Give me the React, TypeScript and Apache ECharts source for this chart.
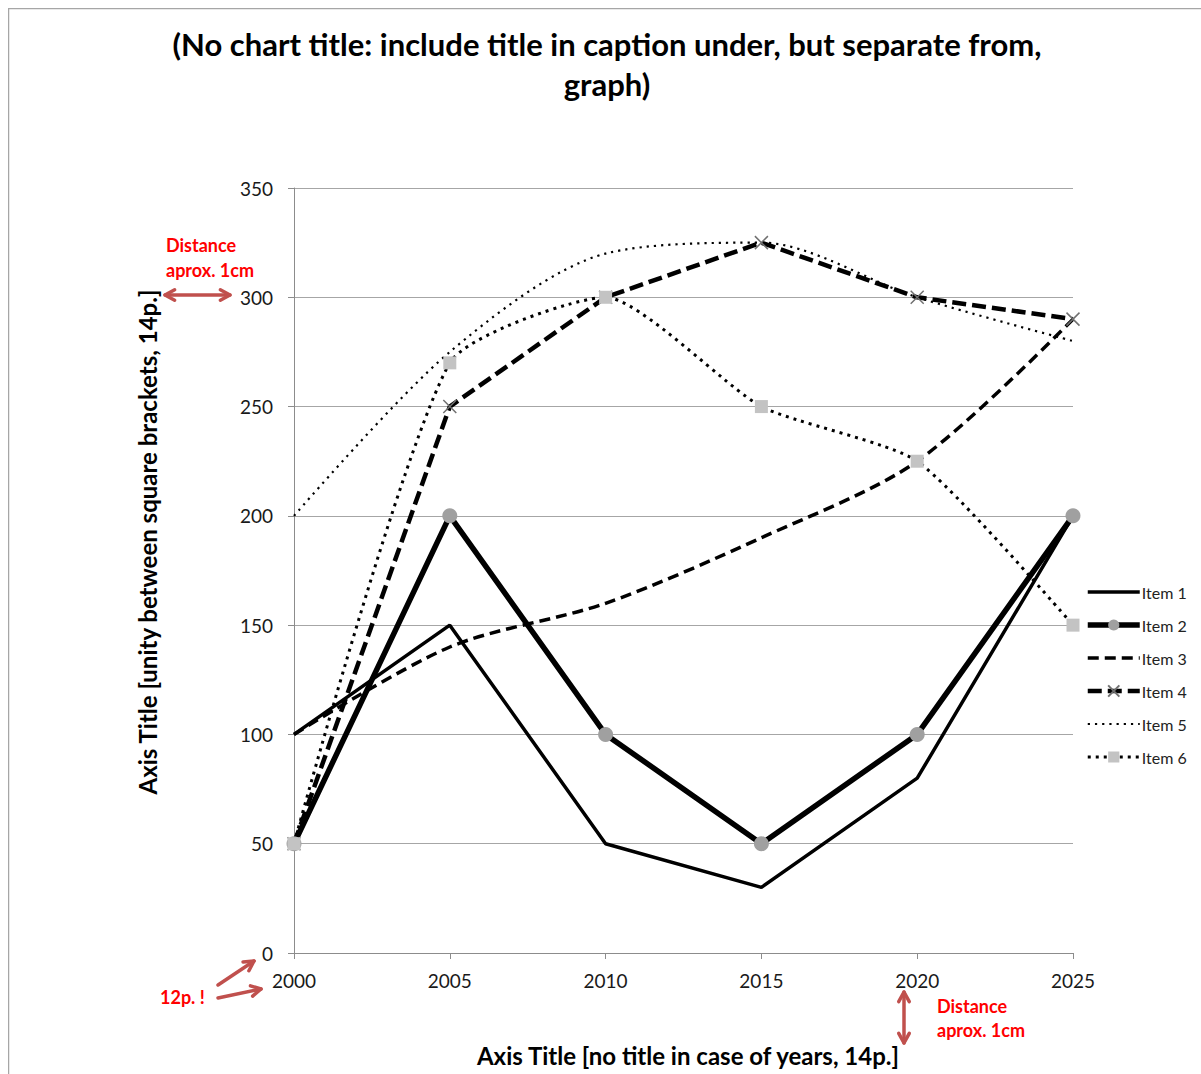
import React, { useEffect, useRef } from "react";
import * as echarts from "echarts";

const years = ["2000", "2005", "2010", "2015", "2020", "2025"];
const item1 = [100, 150, 50, 30, 80, 200];
const item2 = [50, 200, 100, 50, 100, 200];
const item3 = [100, 140, 160, 190, 225, 290];
const item4 = [50, 250, 300, 325, 300, 290];
const item5 = [200, 275, 320, 325, 300, 280];
const item6 = [50, 270, 300, 250, 225, 150];
const legendNames = ["Item 1", "Item 2", "Item 3", "Item 4", "Item 5", "Item 6"];

const FONT = "Lato, 'Noto Sans', sans-serif";
const RED = "#ff0000";
const ARROW = "#c0504d";
const NOFILL = "rgba(0,0,0,0)";

function arrowHead(x: number, y: number, fromX: number, fromY: number, len = 11, spread = 0.5) {
  const ang = Math.atan2(y - fromY, x - fromX);
  const p1 = [x - len * Math.cos(ang - spread), y - len * Math.sin(ang - spread)];
  const p2 = [x - len * Math.cos(ang + spread), y - len * Math.sin(ang + spread)];
  return {
    type: "polyline",
    shape: { points: [p1, [x, y], p2] },
    style: { stroke: ARROW, lineWidth: 3.5, fill: null, lineCap: "round", lineJoin: "round" },
    silent: true,
  };
}

function arrow(x1: number, y1: number, x2: number, y2: number, both: boolean) {
  const els: any[] = [
    {
      type: "line",
      shape: { x1, y1, x2, y2 },
      style: { stroke: ARROW, lineWidth: 3.5, lineCap: "round" },
      silent: true,
    },
    arrowHead(x2, y2, x1, y1),
  ];
  if (both) els.push(arrowHead(x1, y1, x2, y2));
  return els;
}

export default function App() {
  const ref = useRef<HTMLDivElement>(null);
  useEffect(() => {
    if (!ref.current) return;
    const chart = echarts.init(ref.current, null, { renderer: "svg" });
    const redText = (text: string, x: number, y: number) => ({
      type: "text",
      x,
      y,
      style: { text, fill: RED, font: `bold 18px ${FONT}`, textVerticalAlign: "middle" },
      silent: true,
    });
    const option: any = {
      animation: false,
      backgroundColor: "#ffffff",
      grid: { left: 286, top: 180, width: 779, height: 765 },
      legend: {
        orient: "vertical",
        left: 1072,
        top: 571,
        itemWidth: 52,
        itemHeight: 14,
        itemGap: 17,
        lineStyle: { width: "inherit" },
        textStyle: { fontFamily: FONT, fontSize: 16, color: "#222", padding: [0, 0, 0, -3] },
        data: legendNames,
      },
      xAxis: {
        type: "category",
        data: years,
        boundaryGap: false,
        axisLine: { lineStyle: { color: "#8c8c8c", width: 1 } },
        axisTick: { show: true, length: 6, lineStyle: { color: "#8c8c8c" } },
        axisLabel: { fontFamily: FONT, fontSize: 19, color: "#1a1a1a", margin: 18 },
        splitLine: { show: false },
      },
      yAxis: {
        type: "value",
        min: 0,
        max: 350,
        interval: 50,
        axisLine: { show: true, lineStyle: { color: "#8c8c8c", width: 1 } },
        axisTick: { show: true, length: 6, lineStyle: { color: "#8c8c8c" } },
        axisLabel: { fontFamily: FONT, fontSize: 19, color: "#1a1a1a", margin: 21 },
        splitLine: { show: true, lineStyle: { color: "#a6a6a6", width: 1 } },
      },
      series: [
        {
          name: "Item 1",
          type: "line",
          data: item1,
          symbol: "none",
          lineStyle: { color: "#000", width: 3.5 },
          itemStyle: { color: NOFILL },
        },
        {
          name: "Item 2",
          type: "line",
          data: item2,
          symbol: "circle",
          symbolSize: 15,
          lineStyle: { color: "#000", width: 5.5 },
          itemStyle: { color: "#a0a0a0" },
        },
        {
          name: "Item 3",
          type: "line",
          data: item3,
          symbol: "none",
          smooth: 0.3,
          lineStyle: { color: "#000", width: 3.5, type: [11, 6] },
          itemStyle: { color: NOFILL },
        },
        {
          name: "Item 4",
          type: "line",
          data: item4,
          symbol: "path://M0,0L10,10M10,0L0,10",
          symbolSize: 13,
          lineStyle: { color: "#000", width: 4.5, type: [14, 6] },
          itemStyle: { color: NOFILL, borderColor: "#707070", borderWidth: 1.5 },
        },
        {
          name: "Item 5",
          type: "line",
          data: item5,
          symbol: "none",
          smooth: 0.3,
          lineStyle: { color: "#000", width: 2.2, type: [2.2, 5] },
          itemStyle: { color: NOFILL },
        },
        {
          name: "Item 6",
          type: "line",
          data: item6,
          symbol: "rect",
          symbolSize: 13,
          smooth: 0.2,
          lineStyle: { color: "#000", width: 3, type: [3, 5] },
          itemStyle: { color: "#c3c3c3" },
        },
      ],
      graphic: [
        {
          type: "rect",
          shape: { x: 0.5, y: 0.5, width: 1400, height: 1400 },
          style: { fill: null, stroke: "#a6a6a6", lineWidth: 1.5 },
          silent: true,
          z: -10,
        },
        {
          type: "text",
          x: 599,
          y: 56,
          style: {
            text: "(No chart title: include title in caption under, but separate from,\ngraph)",
            fill: "#000",
            font: `bold 31px ${FONT}`,
            lineHeight: 40,
            textAlign: "center",
            textVerticalAlign: "middle",
          },
          silent: true,
        },
        {
          type: "text",
          x: 139,
          y: 534,
          rotation: Math.PI / 2,
          style: {
            text: "Axis Title [unity between square brackets, 14p.]",
            fill: "#000",
            font: `bold 24px ${FONT}`,
            textAlign: "center",
            textVerticalAlign: "middle",
          },
          silent: true,
        },
        {
          type: "text",
          x: 680,
          y: 1047,
          style: {
            text: "Axis Title [no title in case of years, 14p.]",
            fill: "#000",
            font: `bold 24px ${FONT}`,
            textAlign: "center",
            textVerticalAlign: "middle",
          },
          silent: true,
        },
        redText("Distance", 158, 237),
        redText("aprox. 1cm", 158, 262),
        ...arrow(157, 287, 222, 287, true),
        redText("12p. !", 152, 989),
        ...arrow(210, 977, 246, 953, false),
        ...arrow(210, 990, 253, 981, false),
        ...arrow(896, 984, 896, 1035, true),
        redText("Distance", 929, 998),
        redText("aprox. 1cm", 929, 1022),
      ],
    };
    chart.setOption(option);
    return () => chart.dispose();
  }, []);
  return (
    <div
      ref={ref}
      style={{ position: "absolute", left: 8, top: 8, width: 1193, height: 1066 }}
    />
  );
}
